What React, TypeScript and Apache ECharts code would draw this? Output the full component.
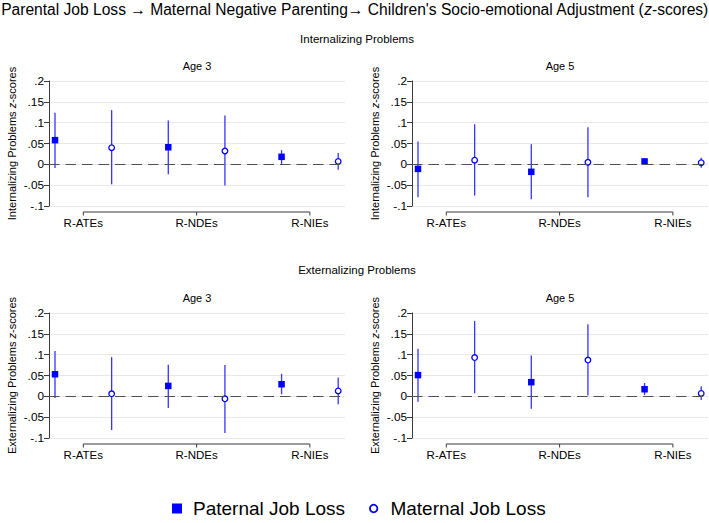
import React, { useEffect, useRef } from 'react';
import * as echarts from 'echarts';

// ---------- data ----------
const categories = ['R-ATEs', 'R-NDEs', 'R-NIEs'];
const categoryPositions = [1.5, 3.5, 5.5];
const paternalPositions = [1, 3, 5];
const maternalPositions = [2, 4, 6];
const seriesNames = ['Paternal Job Loss', 'Maternal Job Loss'];
const panelTitles = ['Age 3', 'Age 5', 'Age 3', 'Age 5'];
const sectionTitles = ['Internalizing Problems', 'Externalizing Problems'];
const yAxisNames = ['Internalizing Problems', 'Internalizing Problems', 'Externalizing Problems', 'Externalizing Problems'];

// Internalizing, Age 3
const intA3PatEst = [0.058, 0.041, 0.018];
const intA3PatLo = [-0.009, -0.024, 0.001];
const intA3PatHi = [0.124, 0.105, 0.034];
const intA3MatEst = [0.040, 0.032, 0.007];
const intA3MatLo = [-0.048, -0.051, -0.013];
const intA3MatHi = [0.130, 0.117, 0.027];

// Internalizing, Age 5
const intA5PatEst = [-0.011, -0.018, 0.007];
const intA5PatLo = [-0.079, -0.084, 0.002];
const intA5PatHi = [0.055, 0.048, 0.013];
const intA5MatEst = [0.010, 0.005, 0.004];
const intA5MatLo = [-0.075, -0.079, -0.008];
const intA5MatHi = [0.096, 0.089, 0.016];

// Externalizing, Age 3
const extA3PatEst = [0.053, 0.025, 0.029];
const extA3PatLo = [-0.004, -0.028, 0.005];
const extA3PatHi = [0.109, 0.076, 0.054];
const extA3MatEst = [0.006, -0.006, 0.013];
const extA3MatLo = [-0.081, -0.088, -0.019];
const extA3MatHi = [0.094, 0.075, 0.045];

// Externalizing, Age 5
const extA5PatEst = [0.051, 0.034, 0.017];
const extA5PatLo = [-0.013, -0.030, 0.003];
const extA5PatHi = [0.114, 0.098, 0.032];
const extA5MatEst = [0.093, 0.087, 0.007];
const extA5MatLo = [0.007, 0.002, -0.009];
const extA5MatHi = [0.181, 0.173, 0.024];

const Y_MIN = -0.1;
const Y_MAX = 0.2;
const Y_STEP = 0.05;

// ---------- styling ----------
const FONT = '"Liberation Sans", Arial, Helvetica, sans-serif';
const BLUE = '#0000ff';
const CI_COLOR = '#3535ff';
const AXIS_COLOR = '#3a3a3a';
const GRID_COLOR = '#e8e8e8';

const grids = [
  { left: 49, top: 81, width: 296, height: 125 },
  { left: 412, top: 81, width: 296, height: 125 },
  { left: 49, top: 313, width: 296, height: 125 },
  { left: 412, top: 313, width: 296, height: 125 },
];

const panels = [
  { pe: intA3PatEst, pl: intA3PatLo, ph: intA3PatHi, me: intA3MatEst, ml: intA3MatLo, mh: intA3MatHi },
  { pe: intA5PatEst, pl: intA5PatLo, ph: intA5PatHi, me: intA5MatEst, ml: intA5MatLo, mh: intA5MatHi },
  { pe: extA3PatEst, pl: extA3PatLo, ph: extA3PatHi, me: extA3MatEst, ml: extA3MatLo, mh: extA3MatHi },
  { pe: extA5PatEst, pl: extA5PatLo, ph: extA5PatHi, me: extA5MatEst, ml: extA5MatLo, mh: extA5MatHi },
];

const fmtTick = (v: number) => {
  const r = Math.round(v * 1000) / 1000;
  if (r === 0) return '0';
  return String(r).replace('0.', '.');
};

const ciRender = (params: any, api: any) => {
  const x = api.value(0);
  const a = api.coord([x, api.value(1)]);
  const b = api.coord([x, api.value(2)]);
  return {
    type: 'line',
    shape: { x1: a[0], y1: a[1], x2: b[0], y2: b[1] },
    style: { stroke: CI_COLOR, lineWidth: 1.3 },
  };
};

const bracketRender = (params: any, api: any) => {
  const a = api.coord([categoryPositions[0], Y_MIN]);
  const b = api.coord([categoryPositions[categoryPositions.length - 1], Y_MIN]);
  const y = a[1] + 6;
  const children: any[] = [
    { type: 'line', shape: { x1: a[0], y1: y, x2: b[0], y2: y }, style: { stroke: AXIS_COLOR, lineWidth: 1 } },
  ];
  categoryPositions.forEach((c) => {
    const p = api.coord([c, Y_MIN]);
    children.push({ type: 'line', shape: { x1: p[0], y1: y, x2: p[0], y2: y + 3.5 }, style: { stroke: AXIS_COLOR, lineWidth: 1 } });
  });
  return { type: 'group', children };
};

function buildOption() {
  const xAxis: any[] = [];
  const yAxis: any[] = [];
  const series: any[] = [];

  grids.forEach((g, i) => {
    xAxis.push({
      type: 'value',
      gridIndex: i,
      min: 0.894,
      max: 6.12,
      splitLine: { show: false },
      axisLine: { show: false },
      axisTick: { show: false },
      axisLabel: {
        customValues: categoryPositions,
        formatter: (v: number) => {
          const k = categoryPositions.findIndex((c) => Math.abs(c - v) < 1e-6);
          return k >= 0 ? categories[k] : '';
        },
        margin: 11,
        fontSize: 11.5,
        color: '#000',
        fontFamily: FONT,
      },
    });
    yAxis.push({
      type: 'value',
      gridIndex: i,
      min: Y_MIN,
      max: Y_MAX,
      interval: Y_STEP,
      name: yAxisNames[i] + ' {i|z}-scores',
      nameLocation: 'middle',
      nameGap: 32,
      nameTextStyle: {
        fontSize: 11,
        color: '#000',
        fontFamily: FONT,
        rich: { i: { fontSize: 11, fontStyle: 'italic', color: '#000', fontFamily: FONT } },
      },
      axisLine: { show: true, lineStyle: { color: AXIS_COLOR, width: 1 } },
      axisTick: { show: true, length: 5, lineStyle: { color: AXIS_COLOR, width: 1 } },
      axisLabel: { formatter: fmtTick, fontSize: 11.8, color: '#000', margin: 5, fontFamily: FONT },
      splitLine: { show: true, lineStyle: { color: GRID_COLOR, width: 1 } },
    });

    const p = panels[i];
    series.push({
      type: 'custom',
      name: 'axis-bracket-' + i,
      xAxisIndex: i,
      yAxisIndex: i,
      silent: true,
      z: 1,
      data: [[categoryPositions[0], Y_MIN]],
      renderItem: bracketRender,
      markLine: {
        silent: true,
        symbol: ['none', 'none'],
        label: { show: false },
        lineStyle: { color: '#505050', type: [10.5, 6], width: 1.2 },
        data: [{ yAxis: 0 }],
      },
    });
    series.push({
      type: 'custom',
      name: 'ci-pat-' + i,
      xAxisIndex: i,
      yAxisIndex: i,
      z: 2,
      encode: { x: 0, y: [1, 2] },
      data: paternalPositions.map((x, k) => [x, p.pl[k], p.ph[k]]),
      renderItem: ciRender,
    });
    series.push({
      type: 'custom',
      name: 'ci-mat-' + i,
      xAxisIndex: i,
      yAxisIndex: i,
      z: 2,
      encode: { x: 0, y: [1, 2] },
      data: maternalPositions.map((x, k) => [x, p.ml[k], p.mh[k]]),
      renderItem: ciRender,
    });
    series.push({
      type: 'scatter',
      name: seriesNames[0],
      xAxisIndex: i,
      yAxisIndex: i,
      z: 3,
      symbol: 'rect',
      symbolSize: 6.5,
      itemStyle: { color: BLUE, opacity: 1 },
      data: paternalPositions.map((x, k) => [x, p.pe[k]]),
    });
    series.push({
      type: 'scatter',
      name: seriesNames[1],
      xAxisIndex: i,
      yAxisIndex: i,
      z: 3,
      symbol: 'circle',
      symbolSize: 5.6,
      itemStyle: { color: '#ffffff', borderColor: BLUE, borderWidth: 1.3, opacity: 1 },
      data: maternalPositions.map((x, k) => [x, p.me[k]]),
    });
  });

  const titles: any[] = [
    {
      text: 'Parental Job Loss \u2192 Maternal Negative Parenting\u2192 Children\'s Socio-emotional Adjustment ({i|z}-scores)',
      left: 354.5,
      top: 9.5,
      padding: 0,
      textAlign: 'center',
      textVerticalAlign: 'middle',
      textStyle: {
        fontSize: 15.6,
        fontWeight: 'normal',
        color: '#000',
        fontFamily: FONT,
        rich: { i: { fontSize: 15.6, fontStyle: 'italic', color: '#000', fontFamily: FONT } },
      },
    },
    { text: sectionTitles[0], left: 357, top: 38.5 },
    { text: sectionTitles[1], left: 357, top: 270 },
  ].map((t, k) =>
    k === 0
      ? t
      : {
          ...t,
          padding: 0,
          textAlign: 'center',
          textVerticalAlign: 'middle',
          textStyle: { fontSize: 11.5, fontWeight: 'normal', color: '#000', fontFamily: FONT },
        }
  );

  grids.forEach((g, i) => {
    titles.push({
      text: panelTitles[i],
      left: g.left + g.width / 2,
      top: g.top - 15,
      padding: 0,
      textAlign: 'center',
      textVerticalAlign: 'middle',
      textStyle: { fontSize: 11, fontWeight: 'normal', color: '#000', fontFamily: FONT },
    });
  });

  const legendText = { fontSize: 19, color: '#000', fontFamily: FONT };

  return {
    animation: false,
    backgroundColor: '#ffffff',
    title: titles,
    grid: grids.map((g) => ({ ...g, containLabel: false })),
    xAxis,
    yAxis,
    legend: [
      {
        left: 172,
        top: 499,
        padding: 0,
        itemWidth: 10,
        itemHeight: 10,
        selectedMode: false,
        data: [{ name: seriesNames[0], icon: 'rect', itemStyle: { color: BLUE, borderWidth: 0 } }],
        textStyle: { ...legendText, padding: [0, 0, 0, 6] },
      },
      {
        left: 369,
        top: 499,
        padding: 0,
        itemWidth: 7.5,
        itemHeight: 7.5,
        selectedMode: false,
        data: [{ name: seriesNames[1], icon: 'circle', itemStyle: { color: '#ffffff', borderColor: BLUE, borderWidth: 1.8 } }],
        textStyle: { ...legendText, padding: [0, 0, 0, 8] },
      },
    ],
    series,
  };
}

export default function App() {
  const ref = useRef<HTMLDivElement>(null);
  useEffect(() => {
    if (!ref.current) return;
    const chart = echarts.init(ref.current, undefined, { renderer: 'svg' });
    chart.setOption(buildOption() as any);
    return () => chart.dispose();
  }, []);
  return (
    <div
      ref={ref}
      style={{ position: 'fixed', left: 0, top: 0, width: 709, height: 523, background: '#fff' }}
    />
  );
}
